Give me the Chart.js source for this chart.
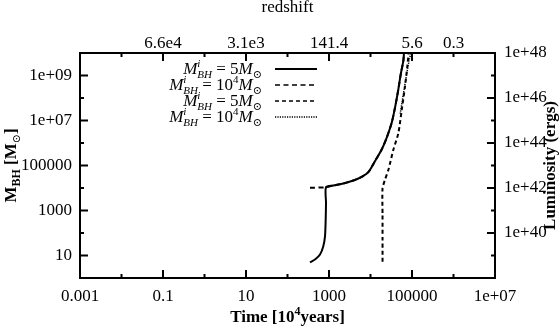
<!DOCTYPE html>
<html>
<head>
<meta charset="utf-8">
<script src="https://cdn.jsdelivr.net/npm/chart.js@4.4.1/dist/chart.umd.min.js"></script>
<style>
  html, body { margin: 0; padding: 0; background: #fff; }
  #wrap { width: 560px; height: 328px; }
</style>
</head>
<body>
<div id="wrap"><canvas id="bhChart" width="560" height="328"></canvas></div>
<script>
// axes
const timeTicks = [0.001, 0.1, 10, 1000, 100000, 1e7]
const timeLabels = ['0.001', '0.1', '10', '1000', '100000', '1e+07']
const timeMinor = [0.01, 1, 100, 10000, 1e6]
const zTicks = [0.1, 10, 1000, 100000, 1e6]
const zLabels = ['6.6e4', '3.1e3', '141.4', '5.6', '0.3']
const massTicks = [10, 1000, 1e5, 1e7, 1e9]
const massLabels = ['10', '1000', '100000', '1e+07', '1e+09']
const massMinor = [100, 1e4, 1e6, 1e8]
const lumTicks = [1e40, 1e42, 1e44, 1e46, 1e48]
const lumLabels = ['1e+40', '1e+42', '1e+44', '1e+46', '1e+48']
const lumMinor = [1e39, 1e41, 1e43, 1e45, 1e47]

// M_BH, seed 5 Msun (solid)
const smallSeedTime = [348, 460, 607, 729, 802, 832, 847, 847, 1270, 2213, 3855, 6140, 8850, 12800, 18600, 24500, 32400, 38900, 46800, 54300, 61700, 64100]
const smallSeedMass = [5, 6.6, 11, 26, 73, 400, 2200, 1.08e4, 1.29e4, 1.58e4, 2.15e4, 3.15e4, 5.04e4, 1.55e5, 5.14e5, 1.7e6, 7.9e6, 3.67e7, 2.39e8, 1.32e9, 4.33e9, 1e10]
// M_BH, seed 1e4 Msun (long dash)
const bigSeedTime = [348, 847, 1270, 2213, 3855, 6140, 8850, 12800, 18600, 24500, 32400, 38900, 46800, 54300, 61700, 64100]
const bigSeedMass = [1.02e4, 1.08e4, 1.29e4, 1.58e4, 2.15e4, 3.15e4, 5.04e4, 1.55e5, 5.14e5, 1.7e6, 7.9e6, 3.67e7, 2.39e8, 1.32e9, 4.33e9, 1e10]
// luminosity, seed 5 Msun (short dash)
const smallLumTime = [19500, 19500, 19500, 19500, 22300, 26900, 35400, 46800, 56500, 67800, 77000, 83000]
const smallLum = [5.3e38, 4.9e39, 6.3e40, 9.7e41, 2.3e42, 6.3e42, 4.9e43, 2.7e44, 2.9e45, 3.2e46, 2.5e47, 1e48]
// luminosity, seed 1e4 Msun (dotted)
const bigLumTime = [52000, 70000, 86000, 94000]
const bigLum = [2e45, 6e46, 5e47, 1e48]

const serif = "'Liberation Serif', 'DejaVu Serif', serif"
Chart.defaults.font.family = serif
Chart.defaults.color = '#000'
const tickFont = { family: serif, size: 17 }
const pts = (xs, ys) => xs.map((x, i) => ({ x: x, y: ys[i] }))

function partWidth (ctx, p) {
  ctx.font = p.f
  if (p.t !== undefined) return ctx.measureText(p.t).width
  return Math.max(p.sup ? ctx.measureText(p.sup).width : 0, p.sub ? ctx.measureText(p.sub).width : 0)
}

// draws a row of text pieces, y is the middle of the main text
function drawRich (ctx, parts, x, y, align) {
  let w = 0
  parts.forEach(p => { w += partWidth(ctx, p) })
  let cx = align === 'right' ? x - w : align === 'center' ? x - w / 2 : x
  const base = y + 5
  ctx.textAlign = 'left'
  ctx.textBaseline = 'alphabetic'
  parts.forEach(p => {
    const pw = partWidth(ctx, p)
    ctx.font = p.f
    if (p.t !== undefined) ctx.fillText(p.t, cx, base)
    if (p.sup) ctx.fillText(p.sup, cx, base - 7)
    if (p.sub) ctx.fillText(p.sub, cx, base + 4)
    cx += pw
  })
}

const it17 = 'italic 17px ' + serif
const it11 = 'italic 11px ' + serif
const rm17 = '17px ' + serif
const rm11 = '11px ' + serif
const bd17 = 'bold 17px ' + serif
const bd12 = 'bold 12px ' + serif

const legendRows = [
  { parts: [{ t: 'M', f: it17 }, { sup: 'i', sub: 'BH', f: it11 }, { t: ' = 5', f: rm17 }, { t: 'M', f: it17 }, { sub: '⊙', f: rm11 }], dash: [], width: 2 },
  { parts: [{ t: 'M', f: it17 }, { sup: 'i', sub: 'BH', f: it11 }, { t: ' = 10', f: rm17 }, { sup: '4', f: rm11 }, { t: 'M', f: it17 }, { sub: '⊙', f: rm11 }], dash: [5, 3.5], width: 1.5 },
  { parts: [{ t: 'M', f: it17 }, { sup: 'i', sub: 'BH', f: it11 }, { t: ' = 5', f: rm17 }, { t: 'M', f: it17 }, { sub: '⊙', f: rm11 }], dash: [4, 3], width: 1.5 },
  { parts: [{ t: 'M', f: it17 }, { sup: 'i', sub: 'BH', f: it11 }, { t: ' = 10', f: rm17 }, { sup: '4', f: rm11 }, { t: 'M', f: it17 }, { sub: '⊙', f: rm11 }], dash: [1.2, 1.2], width: 1.5 }
]

const frame = {
  id: 'frame',
  afterDraw (chart) {
    const { ctx, chartArea: a, scales } = chart
    ctx.save()
    ctx.strokeStyle = '#000'
    ctx.fillStyle = '#000'
    ctx.lineWidth = 2
    ctx.setLineDash([])
    ctx.strokeRect(a.left, a.top, a.right - a.left, a.bottom - a.top)

    const big = 8
    const small = 4
    const vtick = (v, len) => {
      const px = scales.x.getPixelForValue(v)
      ctx.beginPath()
      ctx.moveTo(px, a.bottom); ctx.lineTo(px, a.bottom - len)
      ctx.moveTo(px, a.top); ctx.lineTo(px, a.top + len)
      ctx.stroke()
    }
    timeTicks.forEach(v => vtick(v, big))
    timeMinor.forEach(v => vtick(v, small))
    const htick = (scale, v, len, left) => {
      const py = scale.getPixelForValue(v)
      ctx.beginPath()
      if (left) { ctx.moveTo(a.left, py); ctx.lineTo(a.left + len, py) } else { ctx.moveTo(a.right, py); ctx.lineTo(a.right - len, py) }
      ctx.stroke()
    }
    massTicks.forEach(v => htick(scales.y, v, big, true))
    massMinor.forEach(v => htick(scales.y, v, small, true))
    lumTicks.forEach(v => htick(scales.y2, v, big, false))
    lumMinor.forEach(v => htick(scales.y2, v, small, false))

    // legend
    legendRows.forEach((row, i) => {
      const y = 69 + i * 16
      drawRich(ctx, row.parts, 262, y, 'right')
      ctx.lineWidth = row.width
      ctx.setLineDash(row.dash)
      ctx.beginPath()
      ctx.moveTo(275, y); ctx.lineTo(317, y)
      ctx.stroke()
    })
    ctx.setLineDash([])

    // titles
    const cx = (a.left + a.right) / 2
    const cy = (a.top + a.bottom) / 2
    ctx.font = rm17
    ctx.textAlign = 'center'
    ctx.textBaseline = 'middle'
    ctx.fillText('redshift', cx, 8)
    drawRich(ctx, [{ t: 'Time [10', f: bd17 }, { sup: '4', f: bd12 }, { t: 'years]', f: bd17 }], cx, 317, 'center')

    ctx.save()
    ctx.translate(11, cy)
    ctx.rotate(-Math.PI / 2)
    drawRich(ctx, [{ t: 'M', f: bd17 }, { sub: 'BH', f: bd12 }, { t: ' [M', f: bd17 }, { sub: '⊙', f: rm11 }, { t: ']', f: bd17 }], 0, 0, 'center')
    ctx.restore()

    ctx.save()
    ctx.translate(551, cy)
    ctx.rotate(-Math.PI / 2)
    ctx.font = bd17
    ctx.textAlign = 'center'
    ctx.textBaseline = 'middle'
    ctx.fillText('Luminosity (ergs)', 0, 0)
    ctx.restore()

    ctx.restore()
  }
}

const logAxis = (position, min, max, ticks, labels, padding, size) => ({
  type: 'logarithmic',
  position: position,
  min: min,
  max: max,
  grid: { display: false, drawTicks: false },
  border: { display: false },
  afterBuildTicks: s => { s.ticks = ticks.map(v => ({ value: v })) },
  afterFit: s => {
    if (position === 'top' || position === 'bottom') s.height = size
    else s.width = size
  },
  ticks: {
    callback: (v, i) => labels[i],
    padding: padding,
    font: tickFont,
    color: '#000',
    maxRotation: 0,
    autoSkip: false
  }
})

const ctx = document.getElementById('bhChart').getContext('2d')
new Chart(ctx, {
  type: 'line',
  data: {
    datasets: [
      { label: 'M_BH, 5 Msun', data: pts(smallSeedTime, smallSeedMass), yAxisID: 'y', xAxisID: 'x', borderColor: '#000', borderWidth: 2 },
      { label: 'M_BH, 1e4 Msun', data: pts(bigSeedTime, bigSeedMass), yAxisID: 'y', xAxisID: 'x', borderColor: '#000', borderWidth: 2, borderDash: [5, 3.5] },
      { label: 'L, 5 Msun', data: pts(smallLumTime, smallLum), yAxisID: 'y2', xAxisID: 'x', borderColor: '#000', borderWidth: 2, borderDash: [4, 3] },
      { label: 'L, 1e4 Msun', data: pts(bigLumTime, bigLum), yAxisID: 'y2', xAxisID: 'x', borderColor: '#000', borderWidth: 1.5, borderDash: [1.2, 1.2] }
    ]
  },
  options: {
    responsive: false,
    animation: false,
    layout: { padding: 0 },
    elements: { point: { radius: 0 }, line: { tension: 0.25, fill: false } },
    plugins: { legend: { display: false }, tooltip: { enabled: false } },
    scales: {
      x: logAxis('bottom', 0.001, 1e7, timeTicks, timeLabels, 8, 50),
      x2: logAxis('top', 0.001, 1e7, zTicks, zLabels, -1, 53),
      y: logAxis('left', 1, 1e10, massTicks, massLabels, 8, 80),
      y2: logAxis('right', 1e38, 1e48, lumTicks, lumLabels, 9, 65)
    }
  },
  plugins: [frame]
})
</script>
</body>
</html>
